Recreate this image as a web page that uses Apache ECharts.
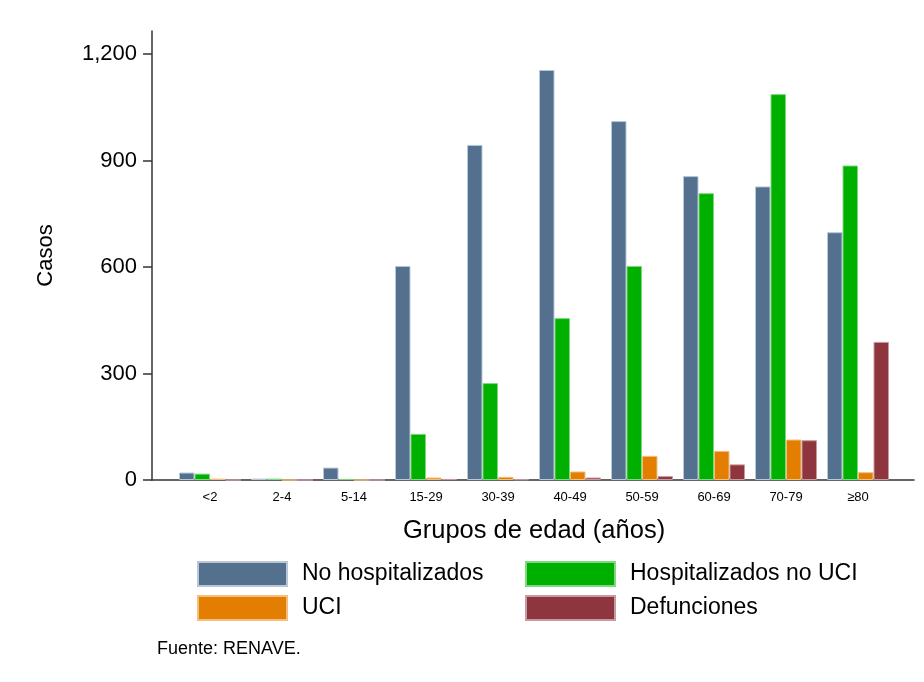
<!DOCTYPE html>
<html>
<head>
<meta charset="utf-8">
<script src="https://cdn.jsdelivr.net/npm/echarts@6/dist/echarts.min.js"></script>
<style>html,body{margin:0;padding:0;background:#fff}#c{width:924px;height:682px}</style>
</head>
<body>
<div id="c"></div>
<script>
const categories = ['<2','2-4','5-14','15-29','30-39','40-49','50-59','60-69','70-79','≥80'];
const noHospitalizados = [21, 4, 35, 603, 944, 1155, 1011, 856, 827, 698];
const hospitalizadosNoUCI = [18, 4, 3, 130, 273, 456, 603, 808, 1087, 886];
const uci = [4, 0, 0, 7, 9, 24, 68, 82, 114, 22];
const defunciones = [0, 0, 0, 3, 2, 7, 11, 44, 112, 389];
const yTicks = [0, 300, 600, 900, 1200];

const FONT = 'Liberation Sans, Arial, sans-serif';
const chart = echarts.init(document.getElementById('c'), null, {renderer: 'canvas'});

function bar(name, data, color, border) {
  return {
    name, type: 'bar', data, xAxisIndex: 0, yAxisIndex: 0,
    barWidth: 15.5, barGap: '0%',
    itemStyle: {color, borderColor: border, borderWidth: 1},
    emphasis: {disabled: true}
  };
}

const legendText = {color: '#000', fontSize: 23, fontFamily: FONT, padding: [0, 0, 0, 10]};

chart.setOption({
  animation: false,
  backgroundColor: '#fff',
  textStyle: {fontFamily: FONT},
  grid: [
    {left: 174, right: 30, top: 54, bottom: 202, containLabel: false},
    {left: 152, right: 10, top: 31, bottom: 202, containLabel: false}
  ],
  xAxis: [
    {
      type: 'category', data: categories, gridIndex: 0,
      axisLine: {show: false}, axisTick: {show: false},
      axisLabel: {color: '#000', fontSize: 13, margin: 11, fontFamily: FONT, interval: 0},
      name: 'Grupos de edad (años)', nameLocation: 'middle', nameGap: 38,
      nameTextStyle: {color: '#000', fontSize: 25.5, fontFamily: FONT}
    },
    {
      type: 'value', gridIndex: 1, min: 0, max: 1,
      axisLine: {show: true, lineStyle: {color: '#333', width: 1.5}},
      axisTick: {show: false}, axisLabel: {show: false}, splitLine: {show: false}
    }
  ],
  yAxis: [
    {
      type: 'value', gridIndex: 0, min: yTicks[0], max: yTicks[yTicks.length - 1], interval: 300,
      offset: 22,
      axisLine: {show: false},
      axisTick: {show: true, length: 9, lineStyle: {color: '#333', width: 1.5}},
      splitLine: {show: false},
      axisLabel: {color: '#000', fontSize: 22, margin: 15, fontFamily: FONT,
        formatter: v => v.toLocaleString('en-US')}
    },
    {
      type: 'value', gridIndex: 1, min: 0, max: 1,
      axisLine: {show: true, lineStyle: {color: '#333', width: 1.5}},
      axisTick: {show: false}, axisLabel: {show: false}, splitLine: {show: false},
      name: 'Casos', nameLocation: 'middle', nameGap: 95, nameRotate: 90,
      nameTextStyle: {color: '#000', fontSize: 22, fontFamily: FONT}
    }
  ],
  legend: [
    {
      data: ['No hospitalizados', 'UCI'], orient: 'vertical', left: 197, top: 561, padding: 0,
      itemWidth: 89, itemHeight: 24, itemGap: 8, icon: 'rect', selectedMode: false,
      textStyle: legendText
    },
    {
      data: ['Hospitalizados no UCI', 'Defunciones'], orient: 'vertical', left: 525, top: 561, padding: 0,
      itemWidth: 89, itemHeight: 24, itemGap: 8, icon: 'rect', selectedMode: false,
      textStyle: legendText
    }
  ],
  graphic: [
    {type: 'text', left: 157, top: 640,
     style: {text: 'Fuente: RENAVE.', fill: '#000', font: '18px ' + FONT}}
  ],
  series: [
    bar('No hospitalizados', noHospitalizados, '#53718f', '#b9c6d3'),
    bar('Hospitalizados no UCI', hospitalizadosNoUCI, '#00b000', '#80d880'),
    bar('UCI', uci, '#e47e00', '#f2bf80'),
    bar('Defunciones', defunciones, '#8f353d', '#c79a9e')
  ]
});
</script>
</body>
</html>
